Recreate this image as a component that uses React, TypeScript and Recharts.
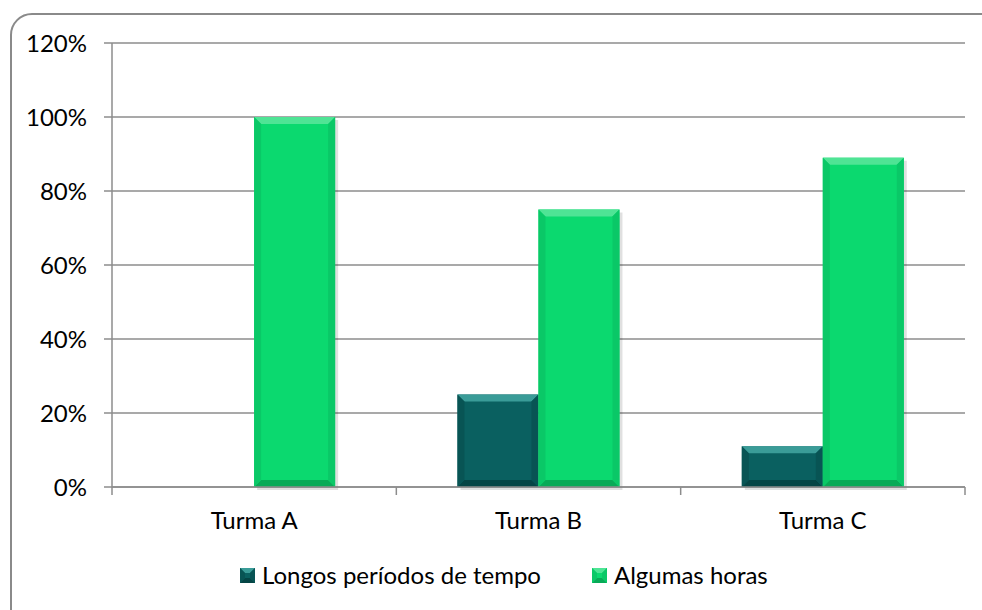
import { Bar, BarChart, CartesianGrid, Legend, XAxis, YAxis } from "recharts";

const turmas = ["Turma A", "Turma B", "Turma C"];
const longos = [0, 25, 11];
const algumas = [100, 75, 89];
const yTicks = [0, 20, 40, 60, 80, 100, 120];

const seriesNames = ["Longos períodos de tempo", "Algumas horas"];

const data = turmas.map((t, i) => ({ turma: t, longos: longos[i], algumas: algumas[i] }));

type Palette = { main: string; top: string; bottom: string; side: string };

const teal: Palette = { main: "#0a6060", top: "#3a9c98", bottom: "#054545", side: "#085454" };
const green: Palette = { main: "#0bd96f", top: "#4fe495", bottom: "#08aa57", side: "#0ac867" };

const FONT = "Lato, 'Noto Sans', sans-serif";
const GRID = "#8c8c8c";
const X_MARGIN = 25;

// barra com chanfro (estilo Excel)
function bevelShape(p: Palette) {
  return (props: any) => {
    const { x, y, width, height } = props;
    if (!height || height <= 0) return <g />;
    const b = Math.min(7, height / 2, width / 2);
    const r = x + width;
    const btm = y + height;
    return (
      <g>
        <rect x={x + 3} y={y + 3} width={width} height={height} fill="#000" opacity={0.12} />
        <rect x={x} y={y} width={width} height={height} fill={p.main} />
        <polygon points={`${x},${y} ${r},${y} ${r - b},${y + b} ${x + b},${y + b}`} fill={p.top} />
        <polygon points={`${x},${btm} ${r},${btm} ${r - b},${btm - b} ${x + b},${btm - b}`} fill={p.bottom} />
        <polygon points={`${x},${y} ${x + b},${y + b} ${x + b},${btm - b} ${x},${btm}`} fill={p.side} />
        <polygon points={`${r},${y} ${r - b},${y + b} ${r - b},${btm - b} ${r},${btm}`} fill={p.side} />
      </g>
    );
  };
}

function LegendIcon({ p }: { p: Palette }) {
  return (
    <svg width={15} height={15} style={{ marginRight: 7 }}>
      <rect x={0} y={0} width={15} height={15} fill={p.main} />
      <polygon points="0,0 15,0 10,5 5,5" fill={p.top} />
      <polygon points="0,15 15,15 10,10 5,10" fill={p.bottom} />
      <polygon points="0,0 5,5 5,10 0,15" fill={p.side} />
      <polygon points="15,0 10,5 10,10 15,15" fill={p.side} />
    </svg>
  );
}

function renderLegend() {
  const pals = [teal, green];
  return (
    <div style={{ display: "flex", alignItems: "center", fontFamily: FONT, fontSize: 24, color: "#000", lineHeight: "28px" }}>
      {seriesNames.map((n, i) => (
        <div key={n} style={{ display: "flex", alignItems: "center", marginRight: i === 0 ? 51 : 0 }}>
          <LegendIcon p={pals[i]} />
          <span>{n}</span>
        </div>
      ))}
    </div>
  );
}

// rótulo da categoria + traços do eixo nas divisas entre categorias
function CategoryTick(props: any) {
  const { x, y, payload, index, visibleTicksCount } = props;
  const half = payload?.offset ?? 0;
  const axisY = y - X_MARGIN;
  const last = index === visibleTicksCount - 1;
  return (
    <g>
      <line x1={x - half} x2={x - half} y1={axisY} y2={axisY + 8} stroke={GRID} strokeWidth={1.5} />
      {last && <line x1={x + half} x2={x + half} y1={axisY} y2={axisY + 8} stroke={GRID} strokeWidth={1.5} />}
      <text x={x} y={y} dy="0.71em" textAnchor="middle" fill="#000" fontSize={24} fontFamily={FONT}>
        {payload.value}
      </text>
    </g>
  );
}

export default function App() {
  return (
    <div style={{ position: "absolute", left: 0, top: 0, width: 982, height: 610, overflow: "hidden", background: "#fff" }}>
      <div
        style={{
          position: "absolute",
          left: 10,
          top: 13,
          width: 1000,
          height: 640,
          border: "2px solid #8a8a8a",
          borderRadius: 22,
        }}
      />
      <div style={{ position: "absolute", left: 0, top: 0 }}>
        <BarChart
          width={982}
          height={610}
          data={data}
          margin={{ top: 43, right: 17, left: 0, bottom: 0 }}
          barCategoryGap="21.5%"
          barGap={0}
        >
          <CartesianGrid vertical={false} stroke={GRID} strokeWidth={1.5} />
          <XAxis
            dataKey="turma"
            height={95}
            tickSize={0}
            tickMargin={X_MARGIN}
            tickLine={false}
            axisLine={{ stroke: GRID, strokeWidth: 1.5 }}
            tick={<CategoryTick />}
          />
          <YAxis
            width={112}
            domain={[0, 120]}
            ticks={yTicks}
            tickSize={8}
            tickMargin={17}
            tickFormatter={(v) => `${v}%`}
            axisLine={{ stroke: GRID, strokeWidth: 1.5 }}
            tickLine={{ stroke: GRID, strokeWidth: 1.5 }}
            tick={{ fill: "#000", fontSize: 24, fontFamily: FONT }}
          />
          <Legend
            content={renderLegend}
            wrapperStyle={{ left: 240, top: 561, width: "auto" }}
          />
          <Bar dataKey="longos" name={seriesNames[0]} fill={teal.main} shape={bevelShape(teal)} isAnimationActive={false} />
          <Bar dataKey="algumas" name={seriesNames[1]} fill={green.main} shape={bevelShape(green)} isAnimationActive={false} />
        </BarChart>
      </div>
    </div>
  );
}
